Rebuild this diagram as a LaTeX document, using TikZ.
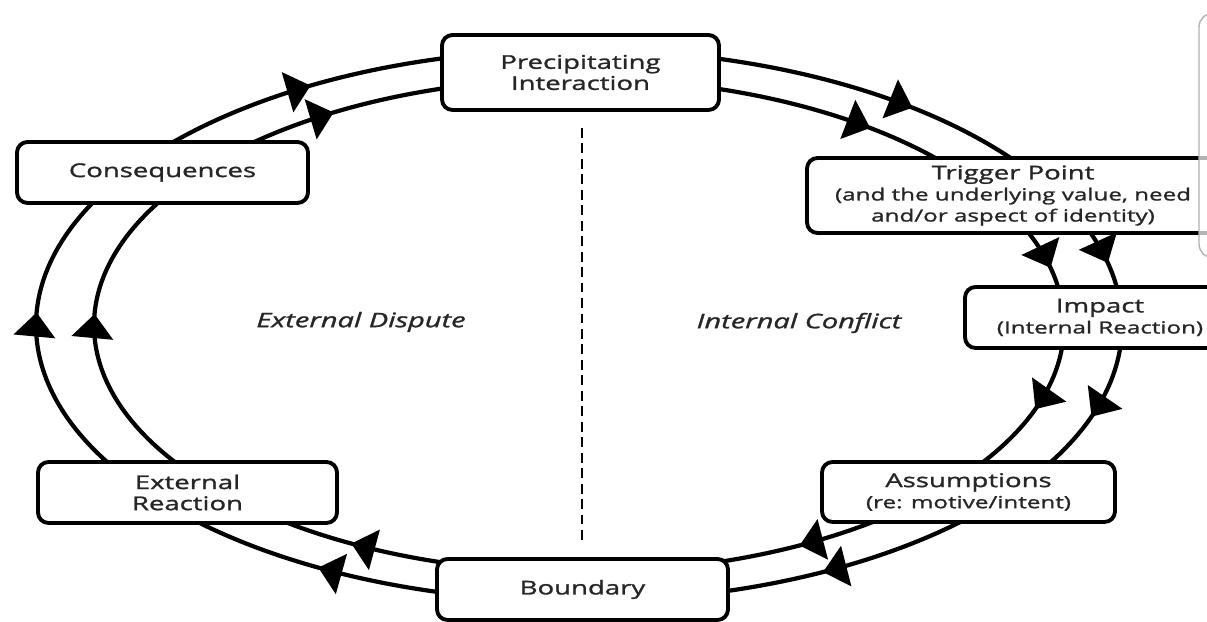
\documentclass[tikz,border=0pt]{standalone}
\usepackage{fontspec}
\setsansfont[FakeStretch=1.45,FakeBold=1.3]{Open Sans}
\usetikzlibrary{arrows.meta,decorations.markings,calc}

\newcommand{\subline}[1]{{\fontsize{4.75}{5.8}\selectfont #1}}

\tikzset{
  stage/.style={draw, line width=1.1pt, rounded corners=3pt, fill=white, align=center,
    font=\sffamily\fontsize{5.4}{6.0}\selectfont, text=black!85, inner sep=0pt},
  track/.style={line width=1.2pt},
  flow/.style={track, postaction={decorate}, decoration={markings,
    mark=at position #1 with {\arrow{Triangle[length=2.4mm,width=4.1mm]}}}},
  side/.style={font=\sffamily\itshape\fontsize{5.7}{6.2}\selectfont, text=black!85},
}

\begin{document}
\begin{tikzpicture}
    \useasboundingbox (0,0) rectangle (12.07,6.22);
    \coordinate (ctr) at (5.79,2.965);

    % outer ring
    \foreach \s/\e/\p in {142/101/0.51, 79/34/0.64, 21.5/6/0.56, -2.5/-32/0.53, -43/-77/0.57, -103/-137/0.49, 211/151/0.56}
        \draw[flow=\p] ($(ctr)+(\s:5.43 and 2.76)$) arc[start angle=\s, end angle=\e, x radius=5.43, y radius=2.76];
    % inner ring
    \foreach \s/\e/\p in {135/103/0.43, 77/39.5/0.67, 24/6.5/0.62, -2.5/-36/0.47, -50.5/-74.5/0.50, -104.5/-129/0.57, 216/147/0.56}
        \draw[flow=\p] ($(ctr)+(\s:4.85 and 2.47)$) arc[start angle=\s, end angle=\e, x radius=4.85, y radius=2.47];

    \node[stage, minimum width=2.77cm, minimum height=0.75cm] (prec) at (5.805,5.495) {Precipitating\\Interaction};
    \node[stage, minimum width=4.12cm, minimum height=0.75cm] (trig) at (10.13,4.265) {Trigger Point\\\subline{(and the underlying value, need}\\\subline{and/or aspect of identity)}};
    \node[stage, minimum width=2.7cm, minimum height=0.61cm] (imp) at (11.0,3.045) {Impact\\\subline{(Internal Reaction)}};
    \node[stage, minimum width=2.93cm, minimum height=0.6cm] (assm) at (9.685,1.30) {Assumptions\\\subline{(re: motive/intent)}};
    \node[stage, minimum width=2.91cm, minimum height=0.61cm] (bnd) at (5.825,0.325) {Boundary};
    \node[stage, minimum width=2.99cm, minimum height=0.61cm] (extr) at (1.875,1.295) {External\\Reaction};
    \node[stage, minimum width=2.91cm, minimum height=0.61cm] (cons) at (1.625,4.495) {Consequences};

    % divider
    \coordinate (dtop) at (5.82,4.94);
    \coordinate (dbot) at (5.82,0.77);
    \draw[line width=0.6pt, dash pattern=on 2.8pt off 1.6pt] (dtop) -- (dbot);

    \node[side] (ext) at (3.61,3.0) {External Dispute};
    \node[side] (int) at (7.99,2.99) {Internal Conflict};

    % panel at the right edge
    \draw[black!30, line width=0.4pt, fill=white, fill opacity=0.7, rounded corners=4pt] (12.40,6.09) -- (11.99,6.09) -- (11.99,3.64) -- (12.40,3.64);
\end{tikzpicture}
\end{document}
